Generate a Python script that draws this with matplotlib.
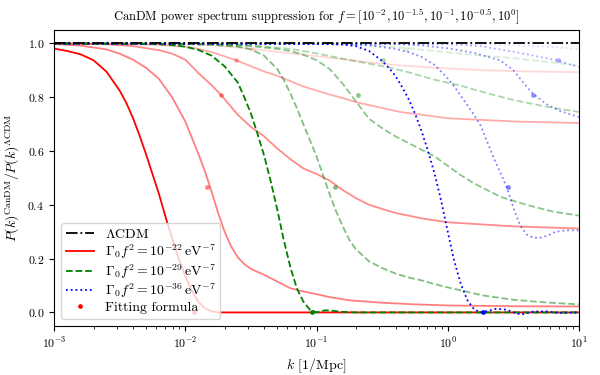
import matplotlib
matplotlib.use("Agg")
import matplotlib.pyplot as plt
from matplotlib.lines import Line2D
import numpy as np

plt.rcParams["font.family"] = "serif"
plt.rcParams["font.serif"] = ["cmr10"]
plt.rcParams["mathtext.fontset"] = "cm"
plt.rcParams["axes.formatter.use_mathtext"] = True
plt.rcParams["font.size"] = 10

# curves: (log10 k, P_CanDM / P_LCDM)
# one list per f = 10^0, 10^-0.5, 10^-1, 10^-1.5, 10^-2
red_f0 = [(-3.0, 0.981), (-2.9, 0.972), (-2.8, 0.96), (-2.7, 0.938), (-2.6, 0.895),
          (-2.5, 0.825), (-2.45, 0.78), (-2.4, 0.725), (-2.35, 0.66), (-2.3, 0.59),
          (-2.25, 0.515), (-2.2, 0.44), (-2.15, 0.355), (-2.1, 0.275), (-2.05, 0.20),
          (-2.0, 0.135), (-1.95, 0.08), (-1.9, 0.04), (-1.85, 0.015), (-1.8, 0.004),
          (-1.75, 0.0), (1.0, 0.0)]
red_f1 = [(-3.0, 0.998), (-2.8, 0.992), (-2.6, 0.978), (-2.5, 0.962), (-2.4, 0.94),
          (-2.3, 0.91), (-2.2, 0.868), (-2.1, 0.80), (-2.0, 0.71), (-1.95, 0.65),
          (-1.9, 0.59), (-1.85, 0.525), (-1.8, 0.45), (-1.75, 0.37), (-1.7, 0.30),
          (-1.65, 0.245), (-1.6, 0.205), (-1.55, 0.18), (-1.5, 0.162), (-1.4, 0.14),
          (-1.3, 0.115), (-1.2, 0.09), (-1.1, 0.078), (-1.0, 0.068), (-0.9, 0.057),
          (-0.75, 0.045), (-0.5, 0.036), (-0.25, 0.03), (0.0, 0.026), (0.5, 0.023),
          (1.0, 0.022)]
red_f2 = [(-3.0, 1.0), (-2.6, 0.997), (-2.4, 0.99), (-2.2, 0.975), (-2.1, 0.962),
          (-2.0, 0.94), (-1.9, 0.89), (-1.8, 0.845), (-1.73, 0.81), (-1.6, 0.735),
          (-1.5, 0.69), (-1.4, 0.655), (-1.3, 0.61), (-1.2, 0.57), (-1.1, 0.535),
          (-1.0, 0.515), (-0.9, 0.49), (-0.8, 0.455), (-0.7, 0.425), (-0.6, 0.40),
          (-0.5, 0.385), (-0.4, 0.37), (-0.2, 0.35), (0.0, 0.335), (0.5, 0.32),
          (1.0, 0.312)]
red_f3 = [(-3.0, 1.0), (-2.5, 0.998), (-2.2, 0.995), (-2.0, 0.988), (-1.9, 0.98),
          (-1.8, 0.968), (-1.7, 0.952), (-1.6, 0.935), (-1.5, 0.915), (-1.4, 0.896),
          (-1.3, 0.88), (-1.2, 0.86), (-1.1, 0.84), (-1.0, 0.825), (-0.9, 0.81),
          (-0.8, 0.797), (-0.7, 0.782), (-0.5, 0.76), (-0.36, 0.745), (-0.2, 0.735),
          (0.0, 0.722), (0.5, 0.71), (1.0, 0.704)]
red_f4 = [(-3.0, 1.0), (-2.0, 0.998), (-1.8, 0.993), (-1.6, 0.985), (-1.4, 0.975),
          (-1.2, 0.963), (-1.0, 0.953), (-0.7, 0.935), (-0.36, 0.918), (0.0, 0.907),
          (0.3, 0.90), (0.6, 0.896), (1.0, 0.893)]

green_f0 = [(-3.0, 1.0), (-2.3, 0.999), (-2.2, 0.997), (-2.1, 0.994), (-2.0, 0.988),
            (-1.9, 0.976), (-1.8, 0.955), (-1.7, 0.915), (-1.6, 0.855), (-1.55, 0.80),
            (-1.5, 0.74), (-1.45, 0.665), (-1.4, 0.585), (-1.35, 0.49), (-1.3, 0.385),
            (-1.25, 0.27), (-1.2, 0.17), (-1.15, 0.09), (-1.1, 0.04), (-1.05, 0.01),
            (-1.0, 0.0), (-0.97, 0.004), (-0.93, 0.008), (-0.88, 0.006), (-0.8, 0.002),
            (-0.7, 0.0), (1.0, 0.0)]
green_f1 = [(-3.0, 1.0), (-2.0, 0.998), (-1.8, 0.995), (-1.6, 0.988), (-1.5, 0.978),
            (-1.4, 0.955), (-1.3, 0.905), (-1.25, 0.865), (-1.2, 0.815), (-1.15, 0.76),
            (-1.1, 0.70), (-1.05, 0.64), (-1.0, 0.58), (-0.95, 0.51), (-0.9, 0.44),
            (-0.85, 0.375), (-0.8, 0.32), (-0.75, 0.27), (-0.7, 0.235), (-0.6, 0.19),
            (-0.5, 0.165), (-0.4, 0.145), (-0.3, 0.13), (-0.19, 0.118), (-0.1, 0.105),
            (0.0, 0.093), (0.1, 0.082), (0.27, 0.063), (0.5, 0.047), (0.75, 0.037),
            (1.0, 0.03)]
green_f2 = [(-3.0, 1.0), (-1.8, 0.998), (-1.5, 0.99), (-1.3, 0.98), (-1.2, 0.972),
            (-1.1, 0.958), (-1.0, 0.938), (-0.9, 0.905), (-0.8, 0.85), (-0.7, 0.785),
            (-0.6, 0.72), (-0.5, 0.685), (-0.4, 0.655), (-0.3, 0.63), (-0.2, 0.605),
            (-0.1, 0.58), (0.0, 0.545), (0.1, 0.51), (0.2, 0.48), (0.3, 0.455),
            (0.4, 0.43), (0.6, 0.40), (0.8, 0.375), (1.0, 0.36)]
green_f3 = [(-3.0, 1.0), (-2.0, 0.998), (-1.5, 0.993), (-1.2, 0.98), (-1.0, 0.963),
            (-0.8, 0.943), (-0.6, 0.925), (-0.46, 0.912), (-0.3, 0.893), (-0.1, 0.865),
            (0.09, 0.844), (0.3, 0.815), (0.5, 0.79), (0.75, 0.765), (1.0, 0.745)]
green_f4 = [(-3.0, 1.0), (-1.0, 0.998), (-0.7, 0.994), (-0.5, 0.99), (-0.3, 0.982),
            (0.0, 0.967), (0.25, 0.955), (0.5, 0.945), (0.75, 0.932), (1.0, 0.918)]

blue_f0 = [(-3.0, 1.0), (-1.0, 0.999), (-0.8, 0.996), (-0.7, 0.99), (-0.6, 0.972),
           (-0.5, 0.935), (-0.45, 0.91), (-0.4, 0.88), (-0.35, 0.84), (-0.3, 0.795),
           (-0.25, 0.74), (-0.2, 0.675), (-0.15, 0.60), (-0.1, 0.515), (-0.05, 0.415),
           (0.0, 0.30), (0.05, 0.19), (0.1, 0.105), (0.15, 0.045), (0.2, 0.012),
           (0.25, 0.0), (0.3, 0.005), (0.37, 0.014), (0.45, 0.01), (0.5, 0.0),
           (0.56, -0.008), (0.65, 0.003), (0.75, 0.004), (0.85, -0.002), (1.0, 0.0)]
blue_f1 = [(-3.0, 1.0), (-0.8, 0.998), (-0.6, 0.993), (-0.4, 0.98), (-0.3, 0.968),
           (-0.2, 0.95), (-0.1, 0.92), (0.0, 0.87), (0.05, 0.84), (0.1, 0.805),
           (0.15, 0.77), (0.2, 0.735), (0.25, 0.695), (0.3, 0.635), (0.35, 0.575),
           (0.4, 0.52), (0.45, 0.465), (0.5, 0.39), (0.55, 0.325), (0.6, 0.29),
           (0.65, 0.278), (0.7, 0.277), (0.76, 0.285), (0.82, 0.30), (0.9, 0.305),
           (1.0, 0.305)]
blue_f2 = [(-3.0, 1.0), (-0.4, 0.998), (-0.2, 0.993), (0.0, 0.982), (0.2, 0.965),
           (0.4, 0.937), (0.5, 0.90), (0.6, 0.84), (0.65, 0.813), (0.75, 0.775),
           (0.85, 0.75), (1.0, 0.726)]
blue_f3 = [(-3.0, 1.0), (0.0, 0.998), (0.25, 0.99), (0.55, 0.965), (0.83, 0.937),
           (1.0, 0.912)]
blue_f4 = [(-3.0, 1.0), (0.3, 0.998), (0.7, 0.99), (1.0, 0.98)]

# fitting formula points
dot_vals = [0.0, 0.468, 0.81, 0.937, 0.978]
red_dot_k = [0.0117, 0.0146, 0.0186, 0.0242, 0.032]
green_dot_k = [0.092, 0.138, 0.207, 0.319, 0.48]
blue_dot_k = [1.86, 2.88, 4.47, 6.9]

f_alpha = [1.0, 0.5, 0.45, 0.33, 0.15]

families = [
    ("red", "-", [red_f0, red_f1, red_f2, red_f3, red_f4], red_dot_k),
    ("green", "--", [green_f0, green_f1, green_f2, green_f3, green_f4], green_dot_k),
    ("blue", ":", [blue_f0, blue_f1, blue_f2, blue_f3, blue_f4], blue_dot_k),
]

fig = plt.figure(figsize=(6, 3.75), dpi=100)
ax = fig.add_subplot(111)
fig.subplots_adjust(left=0.09, right=0.965, top=0.92, bottom=0.131)

for color, ls, curves, dk in families:
    for i, c in enumerate(curves):
        c = np.array(c)
        ax.plot(10 ** c[:, 0], c[:, 1], color=color, ls=ls, lw=1.3, alpha=f_alpha[i])
    for i, k in enumerate(dk):
        ax.plot(k, dot_vals[i], "o", color=color, ms=3.4, alpha=f_alpha[i], mew=0)

ax.axhline(1.0, color="black", ls="-.", lw=1.3)

ax.set_xscale("log")
ax.set_xlim(1e-3, 1e1)
ax.set_ylim(-0.05, 1.05)
ax.tick_params(labelsize=8.5)
ax.set_xlabel(r"$k$ [1/Mpc]", fontsize=10)
ax.set_ylabel(r"$P(k)^{\mathrm{CanDM}}/P(k)^{\Lambda\mathrm{CDM}}$", fontsize=10)
ax.set_title(r"CanDM power spectrum suppression for $f=[10^{-2},10^{-1.5},10^{-1},10^{-0.5},10^{0}]$",
             fontsize=9)

handles = [
    Line2D([], [], color="black", ls="-.", lw=1.3),
    Line2D([], [], color="red", ls="-", lw=1.3),
    Line2D([], [], color="green", ls="--", lw=1.3),
    Line2D([], [], color="blue", ls=":", lw=1.3),
    Line2D([], [], color="red", ls="", marker="o", ms=3.4, mew=0),
]
labels = [
    r"$\Lambda\mathrm{CDM}$",
    r"$\Gamma_0 f^2 = 10^{-22}\,\mathrm{eV}^{-7}$",
    r"$\Gamma_0 f^2 = 10^{-29}\,\mathrm{eV}^{-7}$",
    r"$\Gamma_0 f^2 = 10^{-36}\,\mathrm{eV}^{-7}$",
    "Fitting formula",
]
ax.legend(handles, labels, loc="lower left", fontsize=10, labelspacing=0.08,
          borderpad=0.35)

fig.savefig("out.png", dpi=100)
